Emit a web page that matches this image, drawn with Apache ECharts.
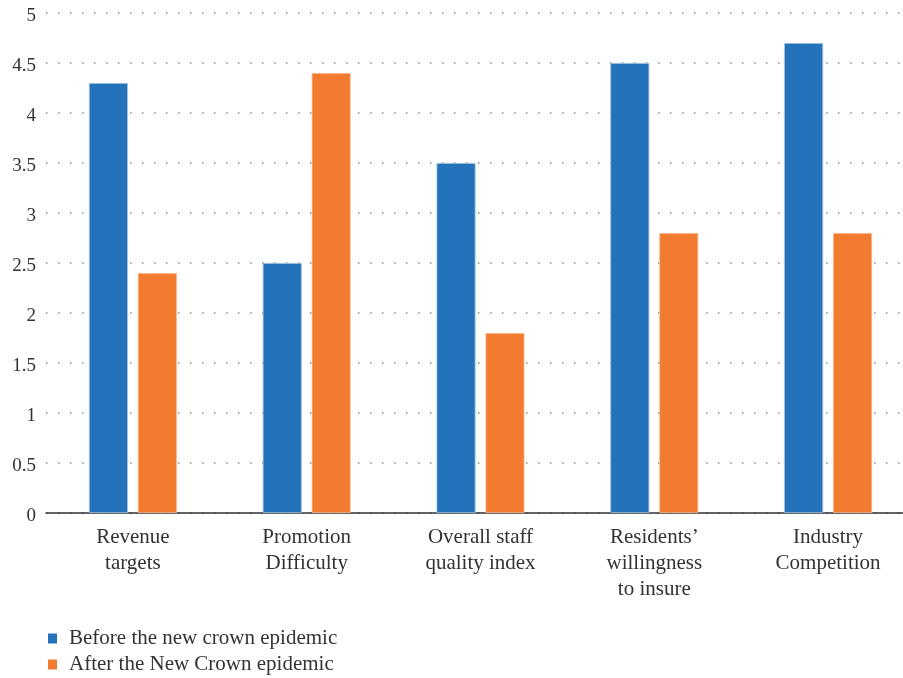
<!DOCTYPE html>
<html>
<head>
<meta charset="utf-8">
<script src="https://cdn.jsdelivr.net/npm/echarts@6/dist/echarts.min.js"></script>
<style>html,body{margin:0;padding:0;background:#fff;}#c{width:903px;height:678px;}</style>
</head>
<body>
<div id="c"></div>
<script>
const categories = ["Revenue\ntargets", "Promotion\nDifficulty", "Overall staff\nquality index", "Residents’\nwillingness\nto insure", "Industry\nCompetition"];
const seriesNames = ["Before the new crown epidemic", "After the New Crown epidemic"];
const beforeValues = [4.3, 2.5, 3.5, 4.5, 4.7];
const afterValues = [2.4, 4.4, 1.8, 2.8, 2.8];
const yTicks = [0, 0.5, 1, 1.5, 2, 2.5, 3, 3.5, 4, 4.5, 5];

const font = "'Liberation Serif', 'DejaVu Serif', serif";
const chart = echarts.init(document.getElementById('c'), null, {renderer: 'canvas'});
chart.setOption({
  animation: false,
  textStyle: {fontFamily: font},
  grid: {left: 46, width: 869, top: 13, bottom: 165, containLabel: false, outerBoundsMode: 'none'},
  legend: {
    orient: 'vertical', left: 48, top: 628, padding: 0, itemWidth: 9, itemHeight: 10, itemGap: 5,
    icon: 'rect', itemStyle: {borderWidth: 0},
    textStyle: {fontFamily: font, fontSize: 21, lineHeight: 20, color: '#333', padding: [0, 0, 0, 7]},
    data: seriesNames
  },
  xAxis: {
    type: 'category', data: categories,
    axisLine: {show: true, lineStyle: {color: '#333', width: 1.5}},
    axisTick: {show: false},
    axisLabel: {fontFamily: font, fontSize: 21, color: '#333', lineHeight: 26, margin: 11, interval: 0}
  },
  yAxis: {
    type: 'value', min: 0, max: 5, interval: 0.5,
    axisLine: {show: false}, axisTick: {show: false},
    axisLabel: {margin: 10,
      formatter: v => yTicks.includes(v) ? '{a|' + v + '}' : '',
      rich: {a: {fontFamily: font, fontSize: 19, color: '#333', lineHeight: 19, padding: [6, 0, 0, 0]}}},
    splitLine: {show: true, lineStyle: {color: '#888', width: 1.5, type: [1.5, 10.5]}}
  },
  series: [
    {name: seriesNames[0], type: 'bar', data: beforeValues, barGap: '25.6%', barCategoryGap: '49.4%',
      itemStyle: {color: '#2372BA', borderColor: '#9cc3e6', borderWidth: 0.8}},
    {name: seriesNames[1], type: 'bar', data: afterValues,
      itemStyle: {color: '#F37B30', borderColor: '#f8b98f', borderWidth: 0.8}}
  ]
});
</script>
</body>
</html>
